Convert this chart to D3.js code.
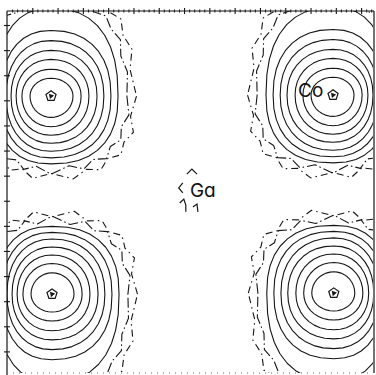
<!DOCTYPE html>
<html>
<head>
<meta charset="utf-8">
<script src="https://cdn.jsdelivr.net/npm/d3@7"></script>
<style>
  html, body { margin: 0; padding: 0; background: #fff; }
  svg { display: block; }
  .lbl { font-family: Inter, "Liberation Sans", Arial, sans-serif; font-size: 19px; fill: #111; font-feature-settings: "cv11"; }
</style>
</head>
<body>
<svg id="chart" width="376" height="375"></svg>
<script>
// ---- data (cell units: one axis tick = 1 unit) ----
// Co sites in the section plane
const coX = [1.74, 12.89, 1.78, 12.92];
const coY = [2.83, 2.79, 10.72, 10.68];
// Ga site (cell centre)
const gaX = [7.31];
const gaY = [6.73];

// Contour radii around each Co, innermost first.
// "in" = towards the cell centre, "out" = towards the cell edge.
const ringInX  = [0.87, 1.19, 1.50, 1.82, 2.09, 2.37, 2.65, 3.00, 3.28];
const ringOutX = [0.83, 1.15, 1.38, 1.58, 1.78, 1.98, 2.21, 2.45, 2.69];
const ringInY  = [0.85, 1.22, 1.56, 1.88, 2.20, 2.46, 2.70, 2.95, 3.18];
const ringOutY = [0.71, 1.07, 1.46, 1.82, 2.21, 2.61, 3.50, 3.85, 4.20];
const ringSquare = [2.0, 2.05, 2.1, 2.15, 2.2, 2.3, 2.4, 2.5, 2.6];
const ringDashed = [false, false, false, false, false, false, false, true, true];

// Irregular wobble of the two low-density contours, every 10 degrees
// (0 = towards centre along x, 90 = towards centre along y)
const wobble8 = [0, .12, -.08, .10, -.10, .14, -.12, .10, -.14, .16, -.12, .12, -.10, .14, -.08, .06, 0, 0,
                 0, 0, 0, .05, -.10, .12, -.12, .10, -.14, .12, -.10, .14, -.08, .10, -.06, .08, -.10, .06];
const wobble9 = [.10, -.10, .14, -.06, .12, -.14, .10, -.12, .16, -.10, .14, -.14, .12, -.06, .10, -.04, 0, 0,
                 0, 0, 0, -.06, .12, -.10, .14, -.12, .10, -.10, .14, -.12, .10, -.08, .12, -.10, .08, -.12];

// Small low-level contour pieces around Ga (offsets from the Ga site)
const gaPieces = [
  [[-0.20, -0.79], [0.00, -0.99], [0.20, -0.79]],
  [[-0.36, -0.44], [-0.52, -0.24], [-0.36, -0.04]],
  [[-0.48, 0.36], [-0.32, 0.20], [-0.24, 0.44], [-0.24, 0.71]],
  [[0.04, 0.52], [0.20, 0.40], [0.24, 0.71]]
];

// Axis ticks
const xMajor = d3.range(1, 15);
const yMajor = d3.range(0, 14);
const xMinor = d3.range(0.2, 14.45, 0.2).filter(v => Math.abs(v - Math.round(v)) > 0.05);

// ---- layout ----
const svg = d3.select("#chart");
const x = d3.scaleLinear().domain([0, 14.47]).range([7, 373]);
const y = d3.scaleLinear().domain([-0.558, 13.86]).range([11, 373]);
const ink = "#161616";

svg.append("rect").attr("width", 376).attr("height", 375).attr("fill", "#fff");

svg.append("clipPath").attr("id", "plotClip")
  .append("rect")
  .attr("x", x(0)).attr("y", y(-0.558))
  .attr("width", x(14.47) - x(0)).attr("height", y(13.86) - y(-0.558));

const plot = svg.append("g").attr("clip-path", "url(#plotClip)");
const line = d3.line().x(d => x(d[0])).y(d => y(d[1])).curve(d3.curveLinearClosed);
const openLine = d3.line().x(d => x(d[0])).y(d => y(d[1]));

const angles = d3.range(0, 36);
function ringPoints(cx, cy, i) {
  const dirX = cx < gaX[0] ? 1 : -1;
  const dirY = cy < gaY[0] ? 1 : -1;
  const e = 2 / ringSquare[i];
  const wob = i === 7 ? wobble8 : i === 8 ? wobble9 : null;
  return angles.map(k => {
    const t = k * Math.PI / 18;
    const c = Math.cos(t), s = Math.sin(t);
    const rx = c >= 0 ? ringInX[i] : ringOutX[i];
    const ry = s >= 0 ? ringInY[i] : ringOutY[i];
    let lx = Math.sign(c) * rx * Math.pow(Math.abs(c), e);
    let ly = Math.sign(s) * ry * Math.pow(Math.abs(s), e);
    if (wob) { lx += c * wob[k]; ly += s * wob[k]; }
    return [cx + dirX * lx, cy + dirY * ly];
  });
}

coX.forEach((cx, a) => {
  const cy = coY[a];
  ringInX.forEach((_, i) => {
    plot.append("path")
      .attr("d", line(ringPoints(cx, cy, i)))
      .attr("fill", "none")
      .attr("stroke", ink)
      .attr("stroke-width", 1.1)
      .attr("stroke-linejoin", "round")
      .attr("stroke-dasharray", ringDashed[i] ? (i === 7 ? "10,3,1.5,3" : "7,4,1.5,4") : null);
  });
  // nucleus: small pentagon with a filled core
  const pent = d3.range(5).map(k => {
    const t = k * 2 * Math.PI / 5 - Math.PI / 2;
    return [cx + 0.21 * Math.cos(t), cy + 0.21 * Math.sin(t)];
  });
  plot.append("path").attr("d", line(pent))
    .attr("fill", "none").attr("stroke", ink).attr("stroke-width", 1.2);
  plot.append("path")
    .attr("d", d3.symbol(d3.symbolTriangle, 13)())
    .attr("transform", `translate(${x(cx)},${y(cy)}) rotate(200)`)
    .attr("fill", ink);
});

gaPieces.forEach(p => {
  plot.append("path")
    .attr("d", openLine(p.map(d => [gaX[0] + d[0], gaY[0] + d[1]])))
    .attr("fill", "none").attr("stroke", ink).attr("stroke-width", 1.2);
});

// labels
svg.append("text").attr("class", "lbl")
  .attr("x", x(coX[1]) - 35).attr("y", y(coY[1]) + 2)
  .text("Co");
svg.append("text").attr("class", "lbl")
  .attr("x", x(gaX[0]) - 2).attr("y", y(gaY[0]) + 3)
  .text("Ga");

// frame
const frame = svg.append("g").attr("stroke", ink).attr("stroke-width", 1.2);
frame.append("line").attr("x1", x(0)).attr("x2", x(14.47) + 1).attr("y1", y(-0.558)).attr("y2", y(-0.558));
frame.append("line").attr("x1", x(0)).attr("x2", x(0)).attr("y1", y(-0.558)).attr("y2", 375);
frame.append("line").attr("x1", x(14.47) + 1).attr("x2", x(14.47) + 1).attr("y1", y(-0.558)).attr("y2", y(13.86));
frame.append("line").attr("x1", x(0)).attr("x2", x(14.47)).attr("y1", y(13.86)).attr("y2", y(13.86))
  .attr("stroke", "#666").attr("stroke-width", 1).attr("stroke-dasharray", "1,5");

// top axis: crossing major ticks and small minor ticks
const topAxis = svg.append("g").attr("transform", `translate(0,${y(-0.558)})`)
  .call(d3.axisTop(x).tickValues(xMajor).tickSize(3).tickFormat(""));
topAxis.select(".domain").remove();
topAxis.selectAll(".tick line").attr("y1", 3).attr("y2", -3).attr("stroke", ink).attr("stroke-width", 1.1);

const topMinor = svg.append("g").attr("transform", `translate(0,${y(-0.558)})`)
  .call(d3.axisTop(x).tickValues(xMinor).tickSize(2).tickFormat(""));
topMinor.select(".domain").remove();
topMinor.selectAll(".tick line").attr("y1", 1.5).attr("y2", -1.5).attr("stroke", ink).attr("stroke-width", 1);

// left axis
const leftAxis = svg.append("g").attr("transform", `translate(${x(0)},0)`)
  .call(d3.axisLeft(y).tickValues(yMajor).tickSize(3).tickFormat(""));
leftAxis.select(".domain").remove();
leftAxis.selectAll(".tick line").attr("x1", 3).attr("x2", -3).attr("stroke", ink).attr("stroke-width", 1.1);
</script>
</body>
</html>
